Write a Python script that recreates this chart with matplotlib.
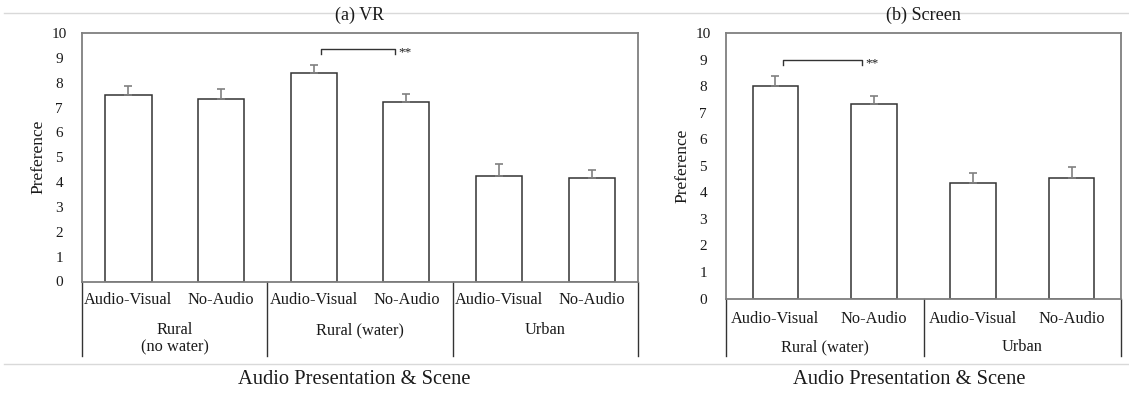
import numpy as np
import matplotlib
matplotlib.use("Agg")
import matplotlib.pyplot as plt
from matplotlib.lines import Line2D

plt.rcParams['font.family'] = ['Liberation Serif', 'DejaVu Serif']

# data
vr_conditions = ["Audio-Visual", "No-Audio", "Audio-Visual", "No-Audio", "Audio-Visual", "No-Audio"]
vr_groups = ["Rural\n(no water)", "Rural (water)", "Urban"]
vr_means = [7.50, 7.36, 8.39, 7.23, 4.26, 4.15]
vr_err = [0.37, 0.38, 0.34, 0.32, 0.48, 0.35]
vr_sig = [(2, 3, "**")]

sc_conditions = ["Audio-Visual", "No-Audio", "Audio-Visual", "No-Audio"]
sc_groups = ["Rural (water)", "Urban"]
sc_means = [7.99, 7.31, 4.35, 4.55]
sc_err = [0.38, 0.33, 0.37, 0.39]
sc_sig = [(0, 1, "**")]

yticks = list(range(0, 11))

W, H = 1129, 394
PT = 72 / 100.0  # points per pixel
txt = '#1a1a1a'
frame_c = '#7f7f7f'

fig = plt.figure(figsize=(W / 100, H / 100), dpi=100)

# light separator lines of the figure
for yy in (13, 364):
    fig.add_artist(Line2D([4 / W, 1], [1 - yy / H] * 2, color='#d9d9d9', lw=1, zorder=0))


def panel(box, title, means, err, conds, groups, sig, barw, cat_dy, grp_dy, sep_dy, xlab_dx):
    l, t, r, b = box
    ax = fig.add_axes([l / W, (H - b) / H, (r - l) / W, (b - t) / H])
    axh = b - t
    axw = r - l
    n = len(means)
    x = np.arange(n)
    ax.bar(x, means, width=barw, color='white', edgecolor='#333333', lw=1.1, zorder=2)
    ax.errorbar(x, means, yerr=[np.zeros(n), err], fmt='none', ecolor='#808080',
                elinewidth=1.2, capsize=3, capthick=1.2, zorder=3)
    ax.set_xlim(-0.5, n - 0.5)
    ax.set_ylim(0, 10)
    ax.set_yticks(yticks)
    ax.set_yticklabels([str(v) for v in yticks], fontsize=11, color=txt, ha='center')
    ax.tick_params(axis='y', length=0, pad=16.5)
    ax.set_xticks([])
    for s in ax.spines.values():
        s.set_color(frame_c)
        s.set_linewidth(1.3)

    xt = ax.get_xaxis_transform()
    for i, c in enumerate(conds):
        ax.annotate(c, xy=(i, 0), xycoords=xt, xytext=(0, -cat_dy * PT),
                    textcoords='offset points', ha='center', va='center',
                    fontsize=11.8, color=txt, annotation_clip=False)
    for g, name in enumerate(groups):
        ax.annotate(name, xy=(2 * g + 0.5, 0), xycoords=xt, xytext=(0, -grp_dy * PT),
                    textcoords='offset points', ha='center', va='top',
                    fontsize=11.8, color=txt, linespacing=1.1, annotation_clip=False)
    for xb in np.arange(-0.5, n, 2):
        ax.plot([xb, xb], [0, -sep_dy / axh], transform=xt, color='#333333',
                lw=1, clip_on=False)

    # significance brackets
    for i, j, star in sig:
        top = max(means[k] + err[k] for k in (i, j)) + 0.62
        x0, x1 = i + 0.08, j - 0.12
        ax.plot([x0, x0, x1, x1], [top - 0.2, top, top, top - 0.2], color='#333333', lw=1)
        ax.text(x1 + 0.03, top - 0.12, star, fontsize=9.5, color=txt, ha='left', va='center')

    ax.text(0.5, 1 + 18 / axh, title, transform=ax.transAxes, ha='center', va='center',
            fontsize=13, color=txt)
    ax.text(-44 / axw, 0.5, "Preference", transform=ax.transAxes, rotation=90,
            ha='center', va='center', fontsize=12.5, color=txt)
    ax.annotate("Audio Presentation & Scene", xy=(0.5, 0), xycoords='axes fraction',
                xytext=(xlab_dx * PT, -(379 - b) * PT), textcoords='offset points',
                ha='center', va='center', fontsize=14.8, color=txt, annotation_clip=False)
    return ax


panel((82, 33, 638, 281.5), "(a) VR", vr_means, vr_err, vr_conditions, vr_groups, vr_sig,
      0.5, 18.5, 40.5, 74.5, -6)
panel((726, 33, 1121, 298.5), "(b) Screen", sc_means, sc_err, sc_conditions, sc_groups, sc_sig,
      0.46, 20.5, 40.5, 57.5, -14)

fig.savefig("out.png", dpi=100)
